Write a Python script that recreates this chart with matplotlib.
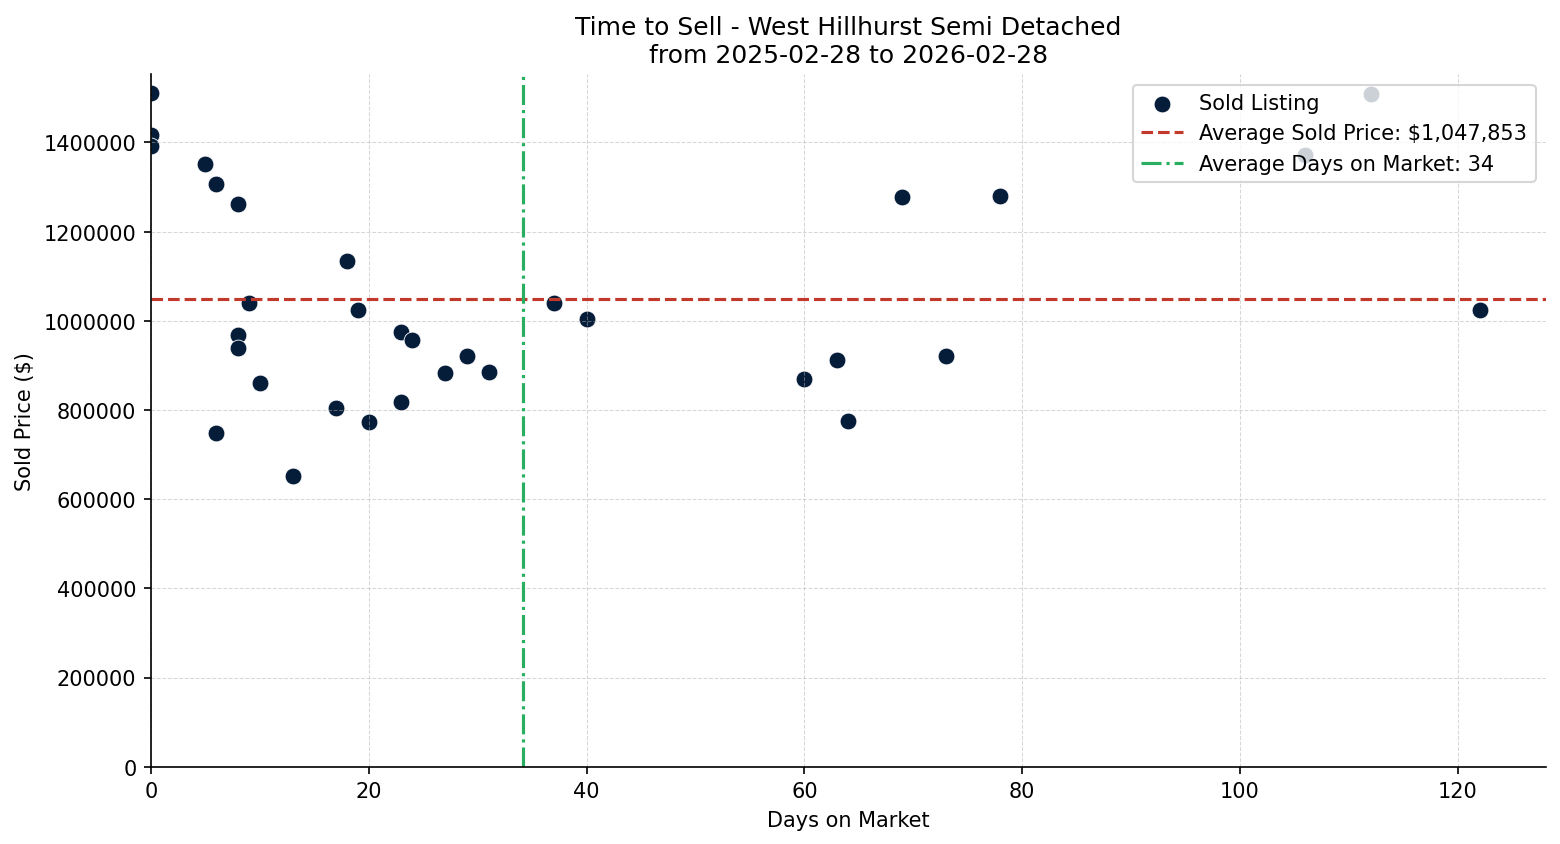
import numpy as np
import matplotlib
matplotlib.use("Agg")
import matplotlib.pyplot as plt

# Sold listings
days_on_market = [0, 0, 0, 5, 6, 8, 9, 8, 8, 10, 6, 13, 17, 18, 19, 20, 23,
                  24, 23, 27, 29, 31, 37, 40, 60, 63, 64, 69, 73, 78, 106, 112, 122]
sold_price = [1510000, 1416000, 1393000, 1351000, 1306000, 1261000, 1041000,
              969000, 940000, 861000, 749000, 651000, 805000, 1135000, 1025000,
              772000, 976000, 958000, 819000, 882000, 920000, 886000, 1041000,
              1005000, 870000, 911000, 776000, 1277000, 920000, 1281000,
              1371000, 1508000, 1025000]

avg_price = 1047853
avg_days = np.mean(days_on_market)

fig, ax = plt.subplots(figsize=(10.4, 5.633), dpi=150)
fig.subplots_adjust(left=0.0968, right=0.991, top=0.911, bottom=0.0915)

ax.scatter(days_on_market, sold_price, s=65, color='#061d3a',
           edgecolors='white', linewidths=0.4, label='Sold Listing')
ax.axhline(avg_price, color='#c0392b', linestyle='--', linewidth=1.5,
           label=f'Average Sold Price: ${avg_price:,.0f}')
ax.axvline(avg_days, color='#27ae60', linestyle='-.', linewidth=1.5,
           label=f'Average Days on Market: {avg_days:.0f}')

ax.set_xlim(left=0)
ax.set_ylim(bottom=0)
ax.ticklabel_format(axis='y', style='plain')
ax.grid(True, linestyle='--', linewidth=0.5, alpha=0.5)
ax.spines['top'].set_visible(False)
ax.spines['right'].set_visible(False)

ax.set_title('Time to Sell - West Hillhurst Semi Detached\nfrom 2025-02-28 to 2026-02-28')
ax.set_xlabel('Days on Market')
ax.set_ylabel('Sold Price ($)')
ax.legend(loc='upper right')

fig.savefig('out.png', dpi=150)
